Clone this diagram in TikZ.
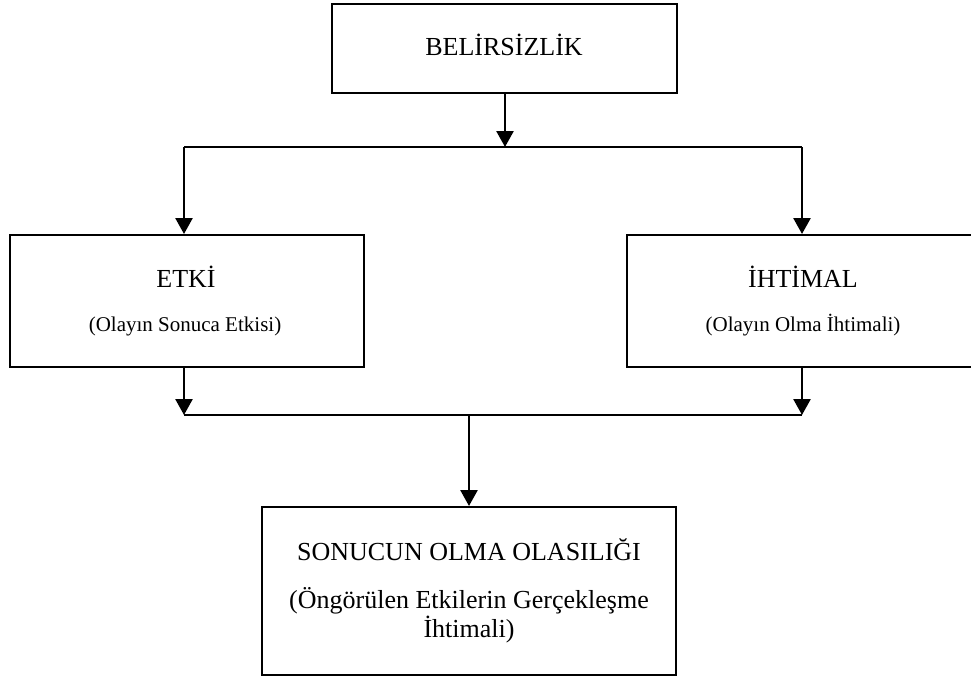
\documentclass[tikz,border=0pt]{standalone}
\usepackage{fontspec}
\setmainfont{Liberation Serif}
\usetikzlibrary{arrows.meta}

\begin{document}
\begin{tikzpicture}[x=1pt, y=-1pt,
  box/.style={draw=black, line width=2pt, inner sep=0pt},
  title/.style={anchor=base, inner sep=0pt, font=\fontsize{26}{30}\selectfont},
  subtitle/.style={anchor=base, inner sep=0pt, font=\fontsize{21}{25}\selectfont},
  flow/.style={line width=2.6pt, -{Triangle[width=17pt,length=16pt]}},
  bus/.style={line width=2pt}
]
\useasboundingbox (0,0) rectangle (971,680);

% boxes
\node[box, minimum width=345pt, minimum height=89pt] (bel) at (504.5,48.5) {};
\node[box, minimum width=354pt, minimum height=132pt] (etki) at (187,301) {};
\node[box, minimum width=348pt, minimum height=132pt] (iht) at (801,301) {};
\node[box, minimum width=414pt, minimum height=168pt] (son) at (469,591) {};

% box texts
\node[title] (belT) at (504,55) {BELİRSİZLİK};
\node[title] (etkiT) at (186,287) {ETKİ};
\node[subtitle] (etkiS) at (185,331) {(Olayın Sonuca Etkisi)};
\node[title] (ihtT) at (803,287) {İHTİMAL};
\node[subtitle] (ihtS) at (803,331) {(Olayın Olma İhtimali)};
\node[title] (sonT) at (469,560) {SONUCUN OLMA OLASILIĞI};
\node[title] (sonS1) at (469,608) {(Öngörülen Etkilerin Gerçekleşme};
\node[title] (sonS2) at (469,637) {İhtimali)};

% junction points
\coordinate (topmid) at (505,147);
\coordinate (topL) at (184,147);
\coordinate (topR) at (802,147);
\coordinate (botL) at (184,415);
\coordinate (botR) at (802,415);
\coordinate (botmid) at (469,415);

% upper split
\draw[flow] (bel.south -| topmid) -- (topmid);
\draw[bus] (topL) -- (topR);
\draw[flow] (topL) -- (topL |- etki.north);
\draw[flow] (topR) -- (topR |- iht.north);

% lower merge
\draw[flow] (botL |- etki.south) -- (botL);
\draw[flow] (botR |- iht.south) -- (botR);
\draw[bus] (botL) -- (botR);
\draw[flow] (botmid) -- (son.north);
\end{tikzpicture}
\end{document}
